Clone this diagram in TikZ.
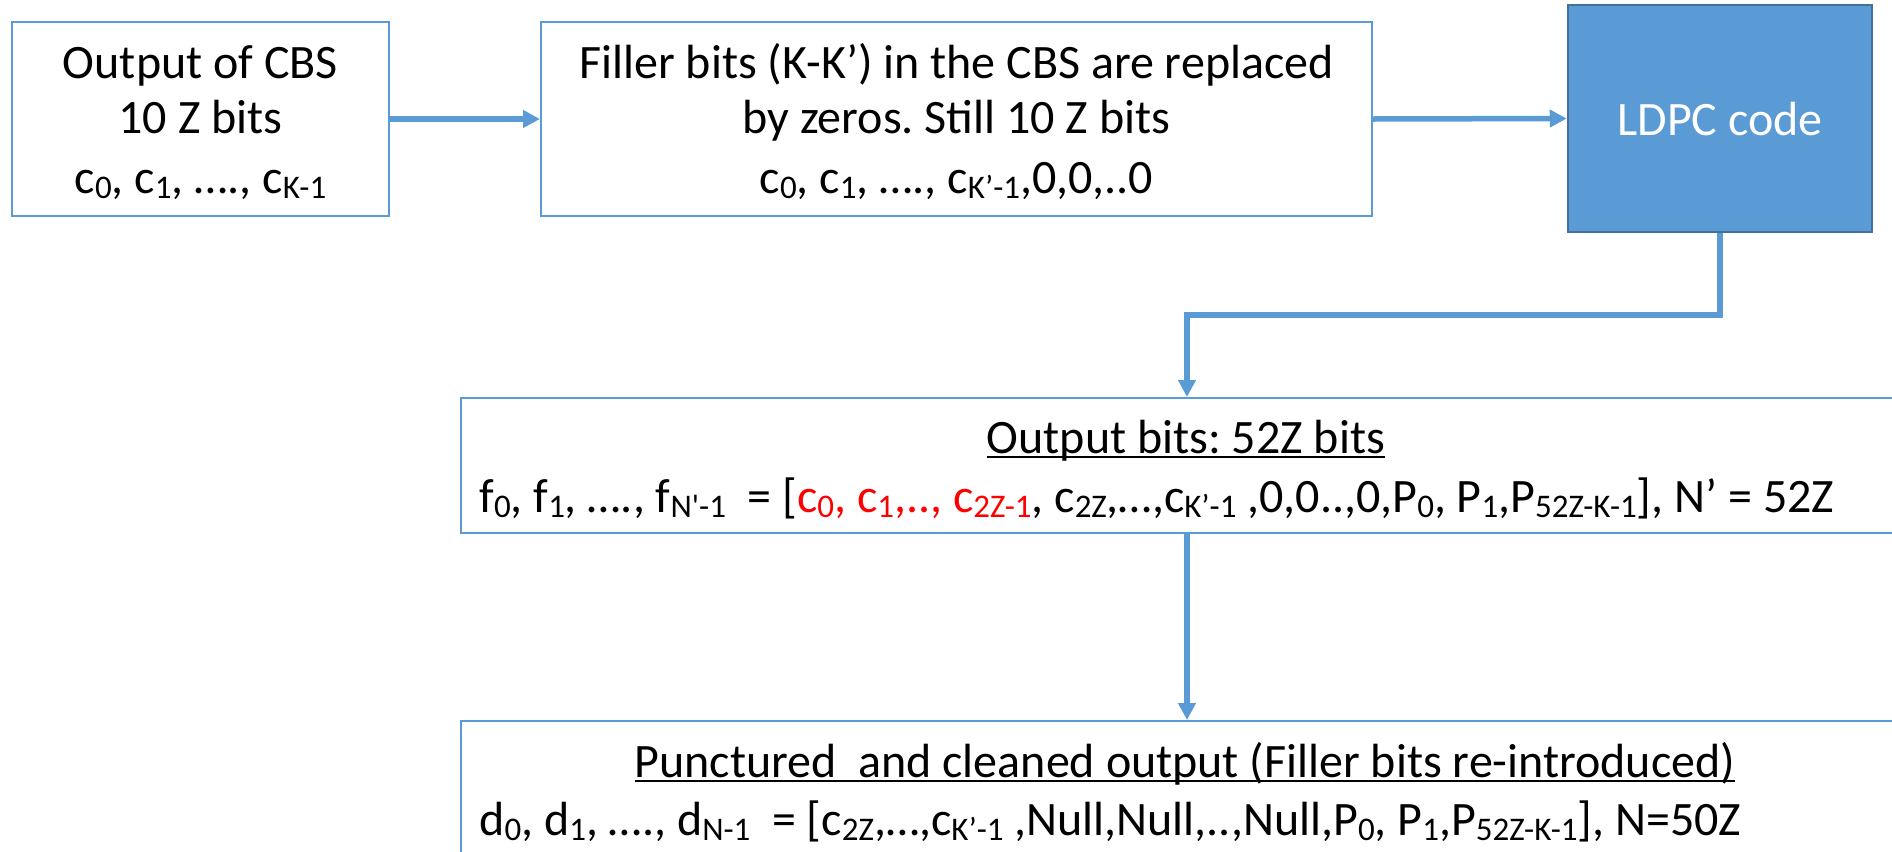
\documentclass[tikz,border=0pt]{standalone}
\usepackage{fontspec}
\setmainfont{Carlito}
\usetikzlibrary{arrows.meta,fit}
\definecolor{ob}{HTML}{5B9BD5}
\definecolor{obd}{HTML}{41719C}
\definecolor{rd}{HTML}{FF0000}
\newcommand{\lo}[1]{\raisebox{-2.8pt}{\fontsize{16.5}{16.5}\selectfont #1}}
\newcommand{\myul}[1]{\leavevmode\setbox0\hbox{#1}\rlap{\rule[-2.6pt]{\wd0}{1.1pt}}\box0}
\frenchspacing
\begin{document}
\begin{tikzpicture}[x=0.5pt,y=-0.5pt,
  box/.style={draw=ob,line width=1pt,inner sep=0pt},
  txt/.style={inner sep=0pt,font=\fontsize{24}{29}\selectfont},
  arr/.style={draw=ob,line width=2.75pt,-{Triangle[length=8.5pt,width=8.5pt]}}]
\useasboundingbox (0,0) rectangle (1892,852);
\clip (0,0) rectangle (1892,852);
% boxes
\node[box,fit={(12,22) (389,216)}] (b1) {};
\node[box,fit={(541,22) (1372,216)}] (b2) {};
\node[fill=ob,draw=obd,line width=1.25pt,inner sep=0pt,fit={(1568,5) (1872,232)}] (ldpc) {};
\node[box,fit={(461,398) (1930,533)}] (b3) {};
\node[box,fit={(461,721) (1930,890)}] (b4) {};
% texts box 1
\node[txt,anchor=base] (t1a) at (200.5,78) {Output of CBS};
\node[txt,anchor=base] (t1b) at (200.5,133) {10 Z bits};
\node[txt,anchor=base] (t1c) at (200.5,193) {c\lo{0}, c\lo{1}, …., c\lo{K-1}};
% texts box 2
\node[txt,anchor=base] (t2a) at (956.5,78) {Filler bits (K-K’) in the CBS are replaced};
\node[txt,anchor=base] (t2b) at (956.5,133) {by zeros. Still 10 Z bits};
\node[txt,anchor=base] (t2c) at (956.5,193) {c\lo{0}, c\lo{1}, …., c\lo{K’-1},0,0,..0};
% LDPC text
\node[txt,text=white] (t3) at (ldpc.center) {LDPC code};
% box 3 texts
\node[txt,anchor=base] (t4a) at (1186,453) {\myul{Output bits: 52Z bits}};
\node[txt,anchor=base west] (t4b) at (479,512) {f\lo{0}, f\lo{1}, …., f\lo{N\textquotesingle-1}\ \ = [\textcolor{rd}{c\lo{0}, c\lo{1},.., c\lo{2Z-1}}, c\lo{2Z},…,c\lo{K’-1} ,0,0..,0,P\lo{0}, P\lo{1},P\lo{52Z-K-1}], N’ = 52Z};
% box 4 texts
\node[txt,anchor=base] (t5a) at (1185,777) {\myul{Punctured\ \ and cleaned output (Filler bits re-introduced)}};
\node[txt,anchor=base west] (t5b) at (479,835) {d\lo{0}, d\lo{1}, …., d\lo{N-1}\ \ = [c\lo{2Z},…,c\lo{K’-1} ,Null,Null,..,Null,P\lo{0}, P\lo{1},P\lo{52Z-K-1}], N=50Z};
% connectors
\coordinate (k1) at (1720,315);
\coordinate (k2) at (1187,315);
\draw[arr] (b1.east) -- (b2.west);
\draw[arr] (b2.east) -- (ldpc.west);
\draw[arr] (ldpc.south) -- (k1) -- (k2) -- (k2 |- b3.north);
\draw[arr] (k2 |- b3.south) -- (k2 |- b4.north);
\end{tikzpicture}
\end{document}
